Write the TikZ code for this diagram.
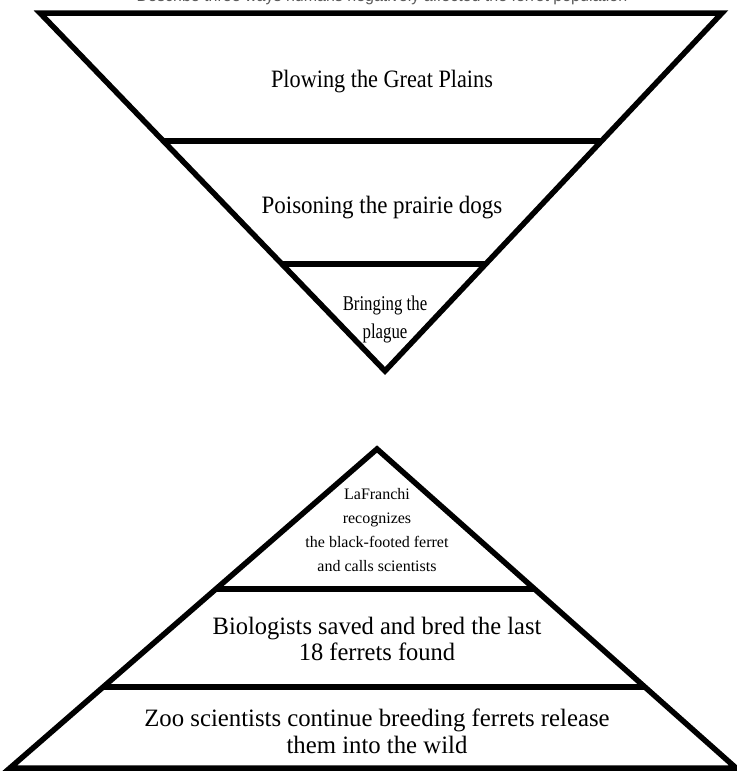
\documentclass[tikz,border=0pt]{standalone}
\usepackage{fontspec}
\setmainfont{Liberation Serif}
\newfontfamily\titlefont{Liberation Sans}
\usetikzlibrary{calc}

\tikzset{
  layer/.style={line width=5.5pt, line join=miter},
  lbl/.style={align=center, inner sep=0pt, anchor=base, transform shape},
}

\begin{document}
\begin{tikzpicture}[x=1pt, y=-1pt]
  \useasboundingbox (0,0) rectangle (737,772);
  \clip (0,0) rectangle (737,772);
  % Title, cut at the top
  \node[lbl, font=\titlefont\fontsize{16}{18}\selectfont, text=black!65] (title)
    at (382,1.5) {Describe three ways humans negatively affected the ferret population};
  % Upside-down triangle
  \coordinate (tl) at (40,13);
  \coordinate (tr) at (722,13);
  \coordinate (tip) at (385,371);
  \draw[layer] (tl) -- (tr) -- (tip) -- cycle;
  \foreach \t in {0.358,0.701}
    \draw[layer] ($(tl)!\t!(tip)$) -- ($(tr)!\t!(tip)$);
  % Labels (base = last line)
  \node[lbl, xscale=0.89, font=\fontsize{25}{27}\selectfont] (plowing)
    at (382,87) {Plowing the Great Plains};
  \node[lbl, xscale=0.92, font=\fontsize{25}{27}\selectfont] (poisoning)
    at (382,213) {Poisoning the prairie dogs};
  \node[lbl, xscale=0.8, font=\fontsize{21}{28}\selectfont] (plague)
    at (385,338) {Bringing the\\plague};
  % Upright triangle
  \coordinate (bl) at (10,768);
  \coordinate (br) at (736,768);
  \coordinate (top) at (377,449);
  \draw[layer] (bl) -- (br) -- (top) -- cycle;
  \foreach \t in {0.439,0.746}
    \draw[layer] ($(top)!\t!(bl)$) -- ($(top)!\t!(br)$);
  % Labels (base = last line)
  \node[lbl, font=\fontsize{16}{24}\selectfont] (lafranchi)
    at (377,571) {LaFranchi\\recognizes\\the black-footed ferret\\and calls scientists};
  \node[lbl, xscale=0.98, font=\fontsize{25}{26}\selectfont] (biologists)
    at (377,660) {Biologists saved and bred the last\\18 ferrets found};
  \node[lbl, xscale=0.99, font=\fontsize{25}{27}\selectfont] (zoo)
    at (377,753) {Zoo scientists continue breeding ferrets release\\them into the wild};
\end{tikzpicture}
\end{document}
